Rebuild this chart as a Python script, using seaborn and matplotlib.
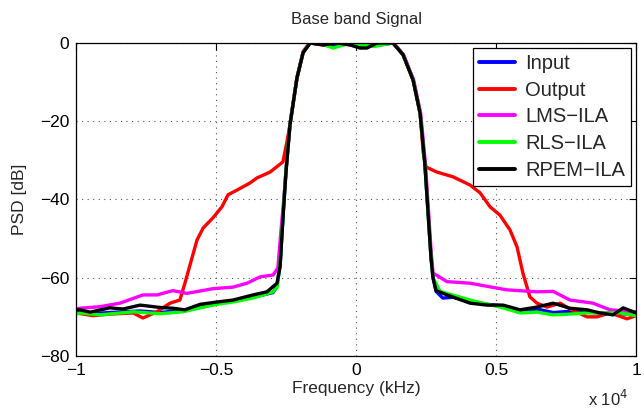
import matplotlib
matplotlib.use("Agg")
import matplotlib.pyplot as plt
import numpy as np
import pandas as pd
import seaborn as sns

# ---- PSD traces (frequency in Hz, PSD in dB) ----
input_freq = [-10000, -9500, -8790, -7710, -7000, -6180, -5570, -4960, -4390, -3680, -2960, -2820,
              -2710, -2610, -2500, -2360, -2110, -1890, -1640, -1180, -820, -210, 140, 610, 1320,
              1680, 2040, 2290, 2460, 2570, 2680, 2750, 2860, 3100, 3460, 4070, 4680, 5250, 5860,
              6460, 7040, 7640, 8250, 8710, 9430, 10000]
input_db = [-68.8, -69.2, -68.9, -68.5, -68.9, -68.3, -67.6, -66.6, -66.0, -65.0, -63.8, -62.0,
            -56.8, -44.5, -32.5, -20.8, -9.0, -2.4, 0.0, -0.4, -1.0, -0.1, -0.5, -0.8, 0.0,
            -3.0, -9.4, -18.0, -31.0, -43.0, -55.0, -60.0, -63.5, -65.2, -65.0, -66.0, -66.8, -67.2, -68.6,
            -68.0, -68.9, -68.6, -68.8, -69.0, -69.2, -69.4]

output_freq = [-10000, -9390, -8790, -7960, -7610, -7110, -6640, -6290, -6110, -5860, -5680, -5460,
               -5110, -4790, -4570, -4250, -3790, -3540, -3070, -2610, -2460, -2360, -2110, -1890,
               -1640, -1180, -680, -210, 140, 390, 750, 1320, 1680, 2040, 2290, 2400, 2500, 2890,
               3460, 4070, 4430, 4790, 5140, 5500, 5750, 5960, 6210, 6460, 6820, 7290, 7640, 8250,
               8610, 9070, 9680, 10000]
output_db = [-69.0, -69.7, -69.3, -69.0, -70.3, -68.7, -66.5, -65.7, -61.4, -55.0, -50.4, -47.3,
             -44.7, -41.9, -38.8, -37.6, -35.8, -34.5, -33.0, -30.4, -25.0, -21.0, -9.0, -2.5,
             0.0, -0.5, 0.0, -0.5, -1.0, -1.0, 0.0, 0.0, -3.0, -9.5, -18.0, -28.0, -31.7, -33.0,
             -34.2, -36.3, -38.3, -41.9, -44.0, -47.8, -52.1, -58.8, -64.9, -66.5, -67.5, -66.5, -68.0, -70.0,
             -70.0, -69.0, -70.5, -69.7]

lms_freq = [-10000, -9860, -9140, -8430, -7610, -7110, -6540, -6040, -5110, -4390, -3890, -3430,
            -2960, -2790, -2680, -2580, -2480, -2340, -2100, -1880, -1640, -1180, -680, -210, 140,
            390, 750, 1320, 1700, 2060, 2310, 2480, 2590, 2680, 2750, 3250, 4070, 4680, 5390, 6460,
            7040, 7640, 8460, 9070, 10000]
lms_db = [-68.0, -67.8, -67.4, -66.5, -64.4, -64.4, -63.3, -64.0, -62.8, -62.4, -61.4, -59.8,
          -59.3, -57.5, -48.0, -40.0, -31.0, -20.0, -8.5, -2.0, 0.2, 0.0, 0.3, -0.2, -0.3,
          0.2, 0.3, 0.2, -3.0, -9.5, -18.0, -31.0, -43.0, -53.0, -58.8, -61.0, -61.4, -62.2, -63.1, -63.6,
          -63.5, -65.7, -66.5, -68.2, -68.7]

rls_freq = [-10000, -9860, -9140, -7960, -7000, -6180, -5320, -4960, -4390, -3680, -2960, -2820,
            -2710, -2610, -2500, -2360, -2110, -1890, -1640, -1180, -820, -210, 140, 610, 1320,
            1680, 2040, 2290, 2460, 2570, 2680, 2750, 3000, 4070, 5250, 5860, 6460, 7040, 7640,
            8250, 9430, 10000]
rls_db = [-69.3, -69.0, -69.5, -68.7, -69.2, -68.7, -67.3, -66.8, -66.2, -65.2, -63.6, -62.5,
          -56.5, -44.5, -32.5, -20.8, -9.0, -2.4, 0.0, -0.3, -1.3, 0.0, -0.4, -0.9, 0.0,
          -3.0, -9.5, -18.0, -31.0, -43.0, -55.0, -60.0, -63.5, -65.7, -67.7, -69.0, -68.8, -69.5, -69.3,
          -69.0, -69.0, -69.7]

rpem_freq = [-10000, -9860, -9500, -8790, -8320, -7710, -7000, -6540, -6110, -5570, -4960, -4390,
             -3680, -3180, -2820, -2710, -2610, -2500, -2360, -2110, -1890, -1640, -1180, -680,
             -210, 140, 390, 750, 1320, 1680, 2040, 2290, 2460, 2570, 2680, 2750, 2860, 3250, 4070,
             4680, 5250, 5860, 6460, 7040, 7640, 8250, 8710, 9180, 9540, 10000]
rpem_db = [-68.2, -68.2, -68.8, -67.7, -68.0, -67.0, -67.6, -67.8, -68.2, -66.8, -66.2, -65.7,
           -64.4, -63.6, -61.4, -57.0, -45.0, -33.0, -21.0, -9.0, -2.5, 0.0, -0.5, 0.0,
           -0.5, -1.3, -1.3, 0.0, 0.0, -3.0, -9.5, -18.0, -31.0, -43.0, -55.0, -60.0, -63.3, -64.4, -66.5,
           -67.0, -67.0, -68.2, -67.5, -66.5, -67.8, -68.2, -69.0, -69.5, -67.7, -69.0]

series_names = ["Input", "Output", "LMS\u2212ILA", "RLS\u2212ILA", "RPEM\u2212ILA"]
series_colors = ["#0000ff", "#ff0000", "#ff00ff", "#00ff00", "#000000"]

x_ticks = [-10000, -5000, 0, 5000, 10000]
x_tick_labels = ["\u22121", "\u22120.5", "0", "0.5", "1"]
y_ticks = [-80, -60, -40, -20, 0]
y_tick_labels = ["\u221280", "\u221260", "\u221240", "\u221220", "0"]

frames = []
for name, f, p in zip(series_names,
                      [input_freq, output_freq, lms_freq, rls_freq, rpem_freq],
                      [input_db, output_db, lms_db, rls_db, rpem_db]):
    frames.append(pd.DataFrame({"freq": f, "psd": p, "series": name}))
df = pd.concat(frames, ignore_index=True)

sns.set_theme(style="white")
plt.rcParams["font.family"] = ["Liberation Sans", "DejaVu Sans"]
plt.rcParams["axes.unicode_minus"] = True

fig = plt.figure(figsize=(6.44, 4.12), dpi=100)
ax = fig.add_axes([0.118, 0.136, 0.8696, 0.7597])

sns.lineplot(data=df, x="freq", y="psd", hue="series", hue_order=series_names,
             palette=dict(zip(series_names, series_colors)), linewidth=2.4,
             estimator=None, sort=False, ax=ax, legend=True)

ax.set_xlim(-10000, 10000)
ax.set_ylim(-80, 0)
ax.set_xticks(x_ticks)
ax.set_xticklabels(x_tick_labels)
ax.set_yticks(y_ticks)
ax.set_yticklabels(y_tick_labels)
ax.tick_params(direction="in", top=True, right=True, length=5, width=0.8,
               labelsize=12.5, colors="black", pad=5)
ax.grid(True, linestyle=(0, (1, 4)), color="#555555", linewidth=0.8)
for s in ax.spines.values():
    s.set_color("black")
    s.set_linewidth(0.9)

ax.set_title("Base band Signal", fontsize=12, pad=14)
ax.set_xlabel("Frequency (kHz)", fontsize=12.5, labelpad=2)
ax.set_ylabel("PSD [dB]", fontsize=12.5, labelpad=9)
fig.text(0.975, 0.008, r"x 10$^{4}$", ha="right", va="bottom", fontsize=12)

handles, labels = ax.get_legend_handles_labels()
leg = ax.legend(handles, labels, loc="upper right", fontsize=14.5, frameon=True,
                fancybox=False, framealpha=1, edgecolor="black",
                handlelength=1.8, handletextpad=0.5, labelspacing=0.38,
                borderpad=0.3, borderaxespad=0.25)
leg.get_frame().set_linewidth(0.9)
for line in leg.get_lines():
    line.set_linewidth(2.8)

fig.savefig("out.png", dpi=100)
